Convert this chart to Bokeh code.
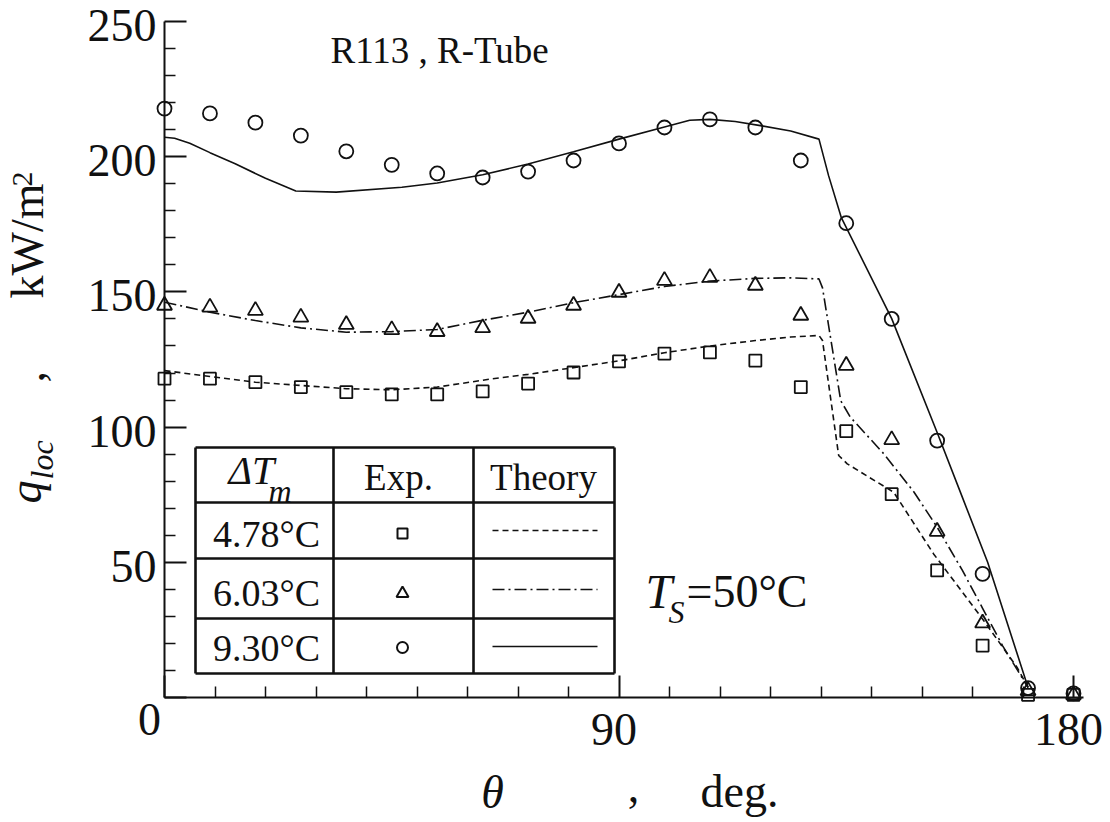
import math
from bokeh.plotting import figure
from bokeh.models import Range1d, FixedTicker, Label
from bokeh.embed import file_html
from bokeh.resources import INLINE

# ---------------- data ----------------
theta_exp = [0, 9, 18, 27, 36, 45, 54, 63, 72, 81, 90, 99, 108, 117, 126, 135, 144, 153, 162, 171, 180]
q_exp_930 = [217.8, 216.0, 212.6, 207.8, 202.0, 197.0, 193.8, 192.3, 194.5, 198.6, 204.9, 210.8, 213.8, 210.8,
             198.6, 175.4, 140.0, 95.0, 45.7, 3.5, 1.5]
q_exp_603 = [145.0, 144.3, 143.1, 140.6, 137.9, 136.0, 135.3, 136.7, 140.2, 145.0, 149.8, 154.2, 155.3, 152.4,
             141.3, 122.8, 95.3, 61.4, 27.5, 2.5, 1.0]
q_exp_478 = [117.9, 117.9, 116.6, 114.8, 112.9, 112.1, 112.1, 113.2, 116.1, 120.2, 124.3, 127.2, 127.6, 124.6,
             114.8, 98.5, 75.2, 47.0, 19.2, 1.0, 1.0]

theta_th_930 = [0, 2, 5, 9, 14, 20, 26, 34, 47, 54, 63, 72, 81, 90, 99, 104, 108, 113, 118, 124, 129.6, 131.5,
                134, 144, 153, 158, 163, 171]
q_th_930 = [207.2, 206.8, 205.0, 201.5, 197.4, 192.0, 187.3, 186.9, 188.7, 190.3, 193.3, 197.3, 201.8, 206.5,
            211.0, 213.5, 213.8, 213.0, 211.5, 209.5, 206.5, 193.0, 177.6, 140.1, 98.0, 74.0, 50.0, 3.7]

theta_th_603 = [0, 9, 18, 27, 36, 45, 54, 63, 72, 81, 90, 99, 108, 117, 124, 129.6, 130.3, 133.9, 135.8, 142.4,
                148.4, 153, 158, 162, 166, 171]
q_th_603 = [146.2, 142.5, 139.4, 136.7, 135.1, 135.3, 136.1, 139.5, 142.5, 146.0, 149.0, 152.0, 154.0, 155.0,
            155.2, 154.8, 151.5, 109.8, 103.7, 90.2, 76.0, 63.0, 47.0, 33.0, 19.0, 3.7]

theta_th_478 = [0, 9, 18, 27, 36, 45, 54, 65, 72, 81, 90, 99, 108, 117, 124, 129.6, 130.3, 133.5, 135.2, 144.4,
                152.3, 162.2, 168.8, 171]
q_th_478 = [120.9, 118.7, 116.6, 115.4, 114.2, 113.8, 114.8, 117.9, 119.5, 122.0, 124.5, 127.5, 130.0, 132.0,
            133.3, 133.9, 132.0, 89.5, 86.4, 75.9, 53.1, 28.5, 11.2, 3.7]

legend_rows = ["4.78°C", "6.03°C", "9.30°C"]
x_ticks = [0, 90, 180]
x_tick_labels = ["0", "90", "180"]
x_minor = [10, 20, 30, 40, 50, 60, 70, 80, 100, 110, 120, 130, 140, 150, 160, 170]
y_ticks = [0, 50, 100, 150, 200, 250]
y_tick_labels = ["0", "50", "100", "150", "200", "250"]
y_minor = [10, 20, 30, 40, 60, 70, 80, 90, 110, 120, 130, 140, 160, 170, 180, 190, 210, 220, 230, 240]

FONT = "Liberation Serif"
INK = "#111111"

# page-pixel <-> data helpers (annotation placement only)
X0, XS, Y0, YS = 164.0, 5.05, 697.0, 2.704
def dx(px): return (px - X0) / XS
def dy(py): return (Y0 - py) / YS
def px_of(t): return X0 + XS * t
def py_of(q): return Y0 - YS * q

W, H, B = 1108, 821, 1
p = figure(width=W, height=H,
           x_range=Range1d(dx(B), dx(W - B)), y_range=Range1d(dy(H - B), dy(B)),
           output_backend="svg", toolbar_location=None,
           min_border_left=B, min_border_right=B, min_border_top=B, min_border_bottom=B)
p.grid.visible = False
p.outline_line_color = None
p.background_fill_color = "white"
p.border_fill_color = "white"

xa = p.xaxis[0]
xa.fixed_location = 0
xa.bounds = (0, 182)
xa.ticker = FixedTicker(ticks=x_ticks, minor_ticks=x_minor)
xa.major_label_overrides = {t: "" for t in x_ticks}
ya = p.yaxis[0]
ya.fixed_location = 0
ya.bounds = (0, 250)
ya.ticker = FixedTicker(ticks=y_ticks, minor_ticks=y_minor)
ya.major_label_overrides = {t: "" for t in y_ticks}
for ax in (xa, ya):
    ax.axis_line_width = 2
    ax.axis_line_color = INK
    ax.major_tick_in = 22
    ax.major_tick_out = 0
    ax.minor_tick_in = 11
    ax.minor_tick_out = 0
    ax.major_tick_line_width = 2
    ax.minor_tick_line_width = 1.5
    ax.major_tick_line_color = INK
    ax.minor_tick_line_color = INK
    ax.major_label_text_font_size = "1px"
    ax.major_label_standoff = 0

# theory curves
p.line(theta_th_478, q_th_478, line_color=INK, line_width=1.6, line_dash="6 4")
p.line(theta_th_603, q_th_603, line_color=INK, line_width=1.6, line_dash="12 4 2 4")
p.line(theta_th_930, q_th_930, line_color=INK, line_width=1.6)

# experimental points
p.scatter(theta_exp, q_exp_478, marker="square", size=12, fill_color=None, line_color=INK, line_width=1.8)
p.scatter(theta_exp, q_exp_603, marker="triangle", size=15, fill_color=None, line_color=INK, line_width=1.8)
p.scatter(theta_exp, q_exp_930, marker="circle", size=14, fill_color=None, line_color=INK, line_width=1.8)

# ---------------- legend table ----------------
tl, tr, tt, tb = 195, 614, 447, 673
vlines = [333, 473]
hlines = [502, 558, 618]
sx0 = [dx(tl), dx(tr), dx(tl), dx(tl)] + [dx(v) for v in vlines] + [dx(tl)] * len(hlines)
sy0 = [dy(tt), dy(tt), dy(tt), dy(tb)] + [dy(tt)] * len(vlines) + [dy(h) for h in hlines]
sx1 = [dx(tl), dx(tr), dx(tr), dx(tr)] + [dx(v) for v in vlines] + [dx(tr)] * len(hlines)
sy1 = [dy(tb), dy(tb), dy(tt), dy(tb)] + [dy(tb)] * len(vlines) + [dy(h) for h in hlines]
p.segment(sx0, sy0, sx1, sy1, line_color=INK, line_width=2.6)

row_y = [530, 589, 646]
mk_x = dx(402)
p.scatter([mk_x], [dy(533)], marker="square", size=10, fill_color=None, line_color=INK, line_width=2)
p.scatter([mk_x], [dy(593)], marker="triangle", size=12, fill_color=None, line_color=INK, line_width=2)
p.scatter([mk_x], [dy(647)], marker="circle", size=11, fill_color=None, line_color=INK, line_width=2)
p.line([dx(492), dx(597)], [dy(row_y[0])] * 2, line_color=INK, line_width=1.4, line_dash="6 4")
p.line([dx(492), dx(597)], [dy(row_y[1])] * 2, line_color=INK, line_width=1.4, line_dash="12 4 2 4")
p.line([dx(492), dx(597)], [dy(row_y[2])] * 2, line_color=INK, line_width=1.4)


def L(text, xp, yp, size, style="normal", align="left", angle=0.0):
    """yp (or xp when rotated) is the vertical middle of the text line, in page pixels"""
    p.add_layout(Label(x=dx(xp), y=dy(yp), text=text, text_font=FONT, text_font_size=f"{size}px",
                       text_font_style=style, text_align=align, text_baseline="middle",
                       text_color=INK, angle=angle))

# tick labels
for t, lab in zip(y_ticks, y_tick_labels):
    if t == 0:
        continue
    L(lab, 156, py_of(t) + 4, 46, align="right")
for t, lab in zip(x_ticks, x_tick_labels):
    if t == 0:
        continue
    L(lab, px_of(t) - 5, 729, 46, align="center")
L(x_tick_labels[0], 149, 719, 46, align="center")

# table texts
L("\u0394T", 228, 470, 40, style="italic")
L("m", 268, 490, 32, style="italic")
L("Exp.", 398, 477, 37, align="center")
L("Theory", 543, 477, 37, align="center")
for txt, yc in zip(legend_rows, [533, 592, 647]):
    L(txt, 266, yc, 38, align="center")

# annotations
L("R113 , R-Tube", 330, 50, 37)
L("T", 645, 591, 48, style="italic")
L("S", 668, 611, 32, style="italic")
L("=50°C", 686, 591, 46)

# x-axis title
L("\u03b8", 492, 792, 46, style="italic", align="center")
L(",", 633, 786, 46, align="center")
L("deg.", 700, 791, 46)

# y-axis title (rotated)
up = math.pi / 2
L("q", 25, 503, 46, style="italic", angle=up)
L("loc", 41, 479, 32, style="italic", angle=up)
L(",", 28, 382, 46, angle=up)
L("kW/m", 27, 298, 46, angle=up)
L("2", 22, 186, 30, angle=up)

open("out.html", "w").write(file_html(p, INLINE))
